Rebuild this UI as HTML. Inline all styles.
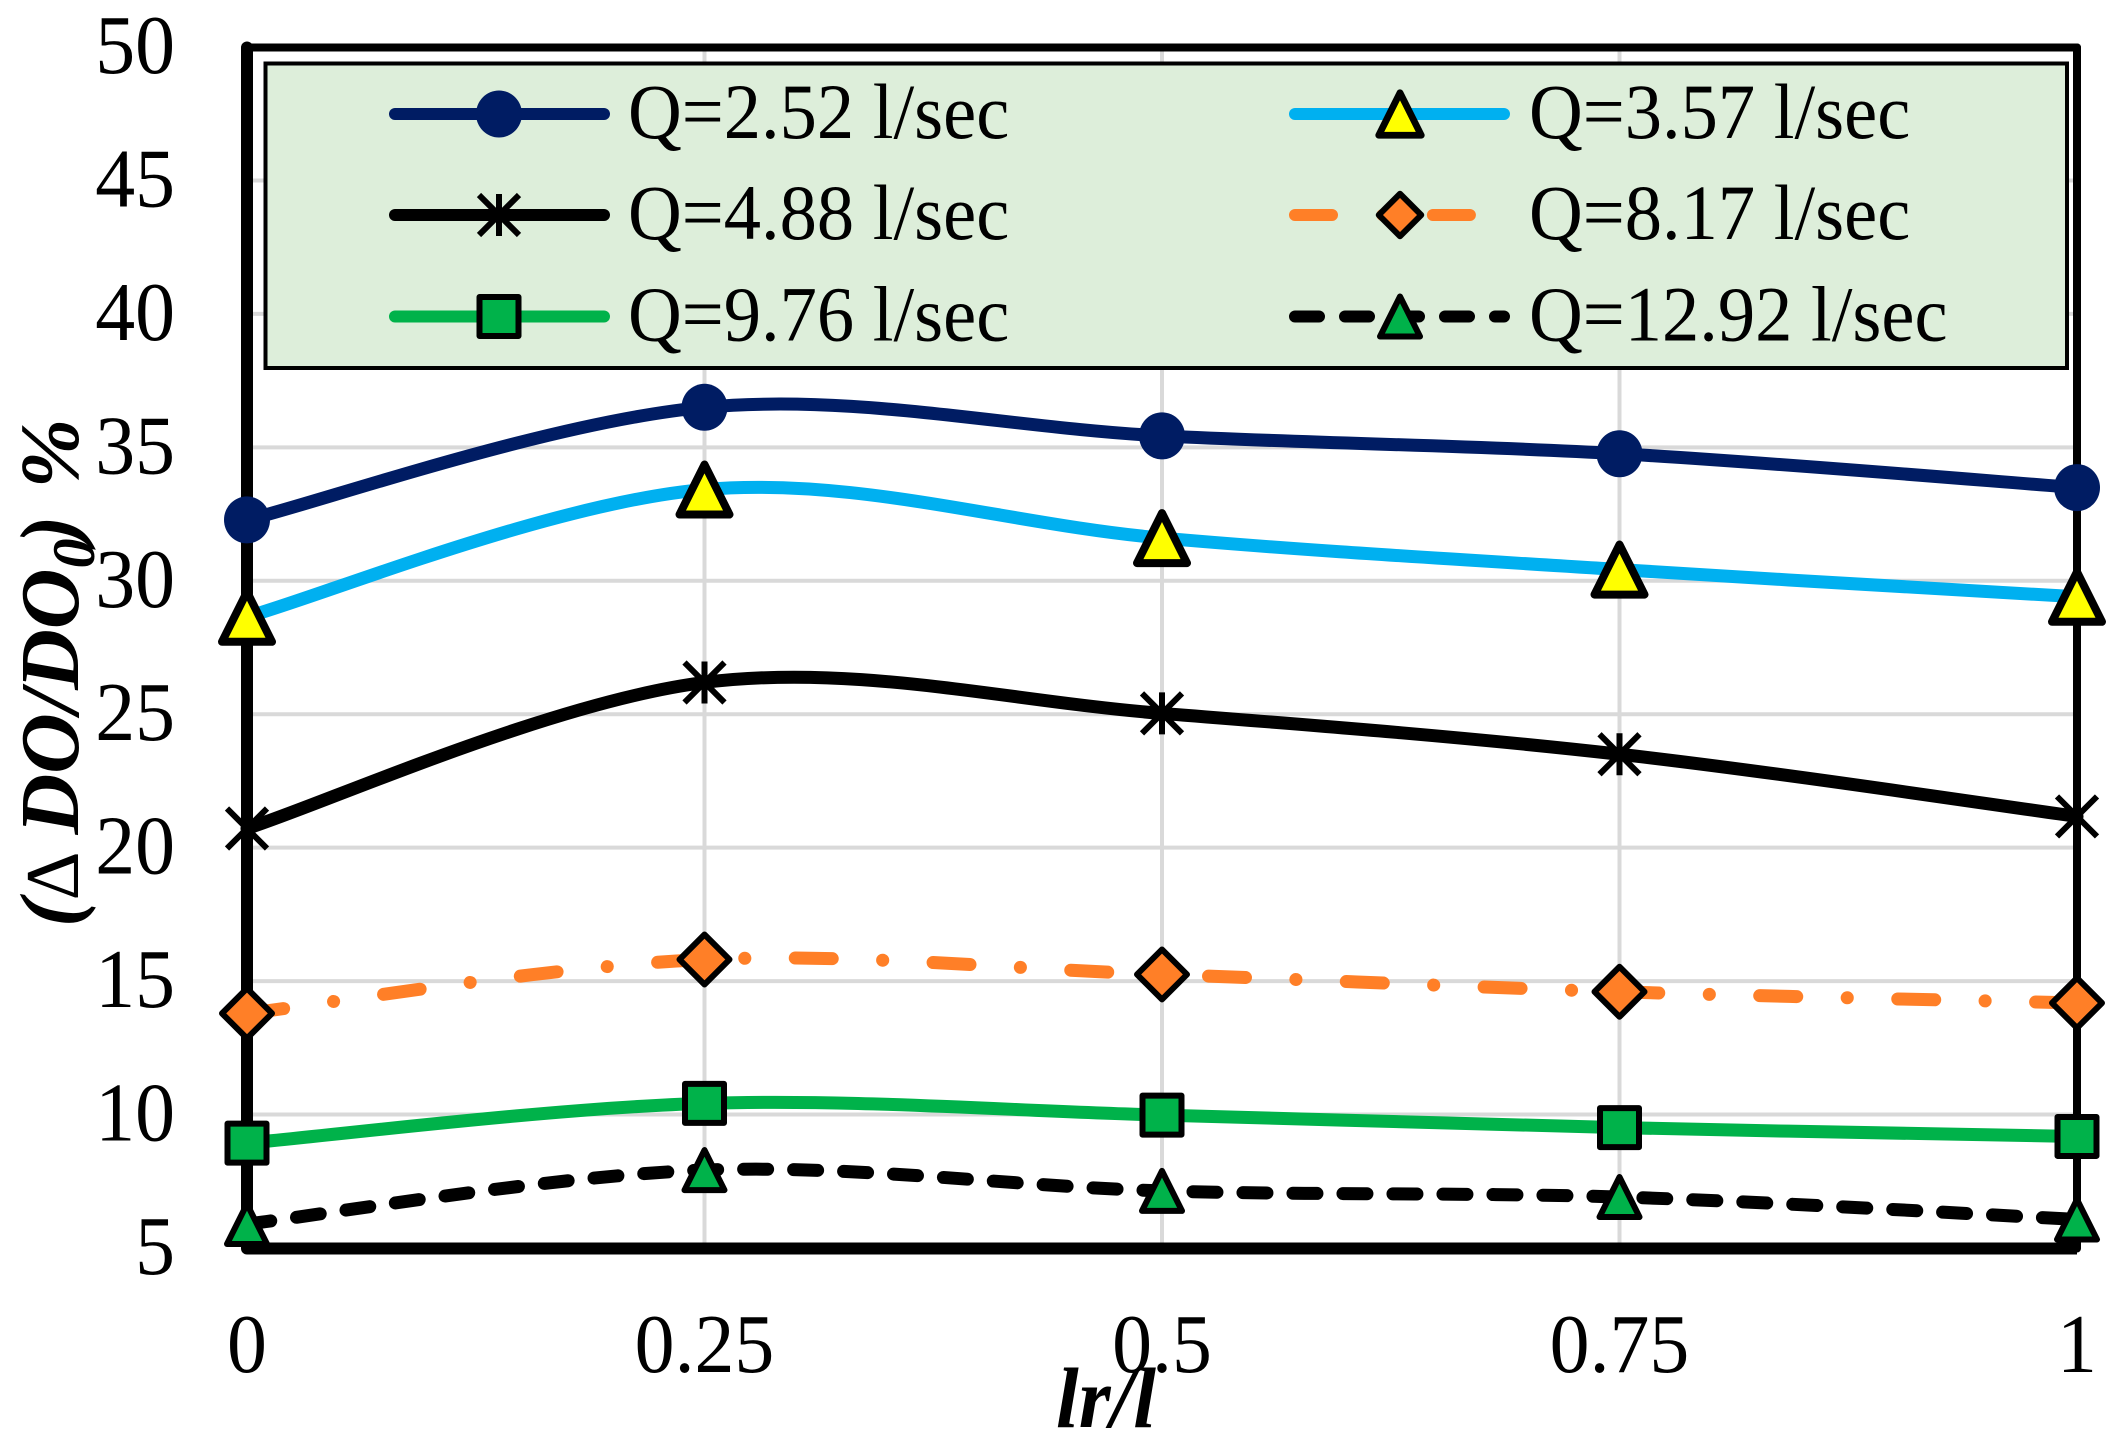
<!DOCTYPE html>
<html lang="en">
<head>
<meta charset="utf-8">
<title>DO ratio chart</title>
<style>
html,body{margin:0;padding:0;background:#fff;}
svg{display:block;}
text{font-family:"Liberation Serif","Times New Roman",serif;fill:#000;}
</style>
</head>
<body>
<svg id="chart" xmlns="http://www.w3.org/2000/svg" width="2120" height="1452" viewBox="0 0 2120 1452">
  <rect x="0" y="0" width="2120" height="1452" fill="#ffffff"/>
  <g id="grid"></g>
  <g id="frame">
    <line x1="247" y1="47.5" x2="2077" y2="47.5" stroke="#000" stroke-width="8" stroke-linecap="round"/>
    <line x1="2077" y1="47.5" x2="2077" y2="1248.5" stroke="#000" stroke-width="8" stroke-linecap="round"/>
    <line x1="247" y1="47.5" x2="247" y2="1248.5" stroke="#000" stroke-width="12" stroke-linecap="round"/>
    <line x1="247" y1="1248.5" x2="2077" y2="1248.5" stroke="#000" stroke-width="12"/>
  </g>
  <g id="yticks"></g>
  <g id="xticks"></g>
  <text x="1056" y="1427" font-size="86" font-weight="bold" font-style="italic" textLength="100" lengthAdjust="spacingAndGlyphs">lr/l</text>
  <text transform="translate(78,927) rotate(-90)" font-size="84" font-weight="bold" font-style="italic"><tspan>(</tspan><tspan font-weight="normal" font-style="normal" font-size="76">∆</tspan><tspan dx="-3"> DO/DO</tspan><tspan font-size="60" dy="16">0</tspan><tspan dy="-16" dx="-5">)</tspan><tspan dx="6"> %</tspan></text>
  <g id="series"></g>
  <g id="legend">
    <rect x="265.5" y="63.5" width="1801.5" height="304.5" fill="#ddeeda" stroke="#000" stroke-width="4"/>
    <g id="legend-entries"></g>
  </g>
</svg>
<script>
const categories = [0, 0.25, 0.5, 0.75, 1];
const xTickLabels = ['0', '0.25', '0.5', '0.75', '1'];
const yTickValues = [5, 10, 15, 20, 25, 30, 35, 40, 45, 50];
const seriesNames = ['Q=2.52 l/sec', 'Q=3.57 l/sec', 'Q=4.88 l/sec', 'Q=8.17 l/sec', 'Q=9.76 l/sec', 'Q=12.92 l/sec'];
const q252 = [32.28, 36.5, 35.43, 34.76, 33.49];
const q357 = [28.65, 33.42, 31.6, 30.42, 29.4];
const q488 = [20.72, 26.19, 25.03, 23.5, 21.17];
const q817 = [13.79, 15.81, 15.25, 14.6, 14.18];
const q976 = [8.93, 10.42, 9.98, 9.51, 9.18];
const q1292 = [5.9, 7.92, 7.14, 6.91, 6.07];

const NS = 'http://www.w3.org/2000/svg';
const xScale = function (v) { return 247 + v * 1830; };
const yScale = function (v) { return 1248 - (v - 5) * (1201 / 45); };

const styles = [
  { slug: 'q-2-52', values: q252, color: '#001c63', dash: '', marker: 'circle' },
  { slug: 'q-3-57', values: q357, color: '#00b0f0', dash: '', marker: 'triangle-yellow' },
  { slug: 'q-4-88', values: q488, color: '#000000', dash: '', marker: 'star' },
  { slug: 'q-8-17', values: q817, color: '#ff7f27', dash: '37 50.4 0.1 50.4', marker: 'diamond' },
  { slug: 'q-9-76', values: q976, color: '#00b24a', dash: '', marker: 'square' },
  { slug: 'q-12-92', values: q1292, color: '#000000', dash: '24 26', marker: 'triangle-green' }
];

function svgEl(tag) { return document.createElementNS(NS, tag); }

function condense(t, ratio) {
  t.setAttribute('textLength', t.getComputedTextLength() * ratio);
  t.setAttribute('lengthAdjust', 'spacingAndGlyphs');
}

function smoothPath(values) {
  const pts = values.map(function (v, i) { return [xScale(categories[i]), yScale(v)]; });
  let d = 'M' + pts[0][0] + ' ' + pts[0][1];
  for (let i = 0; i < pts.length - 1; i++) {
    const p0 = pts[Math.max(i - 1, 0)];
    const p1 = pts[i];
    const p2 = pts[i + 1];
    const p3 = pts[Math.min(i + 2, pts.length - 1)];
    const c1x = p1[0] + (p2[0] - p0[0]) / 6;
    const c1y = p1[1] + (p2[1] - p0[1]) / 6;
    const c2x = p2[0] - (p3[0] - p1[0]) / 6;
    const c2y = p2[1] - (p3[1] - p1[1]) / 6;
    d += ' C' + c1x + ' ' + c1y + ' ' + c2x + ' ' + c2y + ' ' + p2[0] + ' ' + p2[1];
  }
  return d;
}

function drawMarker(kind, x, y, k, parent, name) {
  const g = svgEl('g');
  
  
  g.setAttribute('transform', 'translate(' + x + ',' + y + ')');
  if (kind === 'circle') {
    const c = svgEl('ellipse');
    c.setAttribute('rx', 23);
    c.setAttribute('ry', 23.5);
    c.setAttribute('fill', '#001c63');
    g.appendChild(c);
  } else if (kind === 'triangle-yellow' || kind === 'triangle-green') {
    const p = svgEl('polygon');
    const s = kind === 'triangle-yellow' ? 25 * k : 20;
    p.setAttribute('points', '0,' + (-s) + ' ' + s + ',' + s + ' ' + (-s) + ',' + s);
    p.setAttribute('fill', kind === 'triangle-yellow' ? '#ffff00' : '#00b24a');
    p.setAttribute('stroke', '#000');
    p.setAttribute('stroke-width', kind === 'triangle-yellow' ? 8 * k : 6);
    p.setAttribute('stroke-linejoin', 'round');
    g.appendChild(p);
  } else if (kind === 'diamond') {
    const p = svgEl('polygon');
    const s = 25 * k;
    p.setAttribute('points', '0,' + (-s) + ' ' + s + ',0 0,' + s + ' ' + (-s) + ',0');
    p.setAttribute('fill', '#ff7f27');
    p.setAttribute('stroke', '#000');
    p.setAttribute('stroke-width', 6);
    p.setAttribute('stroke-linejoin', 'round');
    g.appendChild(p);
  } else if (kind === 'square') {
    const r = svgEl('rect');
    r.setAttribute('x', -19.5);
    r.setAttribute('y', -19.5);
    r.setAttribute('width', 39);
    r.setAttribute('height', 39);
    r.setAttribute('fill', '#00b24a');
    r.setAttribute('stroke', '#000');
    r.setAttribute('stroke-width', 6);
    r.setAttribute('stroke-linejoin', 'round');
    g.appendChild(r);
  } else if (kind === 'star') {
    const p = svgEl('path');
    p.setAttribute('d', 'M0 -21 V21 M-20 -20 L20 20 M-20 20 L20 -20');
    p.setAttribute('fill', 'none');
    p.setAttribute('stroke', '#000');
    p.setAttribute('stroke-width', 6);
    g.appendChild(p);
  }
  parent.appendChild(g);
}

const grid = document.getElementById('grid');
yTickValues.forEach(function (v) {
  if (v === 5 || v === 50) return;
  const l = svgEl('line');
  
  
  l.setAttribute('x1', xScale(0));
  l.setAttribute('x2', xScale(1));
  l.setAttribute('y1', yScale(v));
  l.setAttribute('y2', yScale(v));
  l.setAttribute('stroke', '#d9d9d9');
  l.setAttribute('stroke-width', 4);
  grid.appendChild(l);
});
categories.forEach(function (c, i) {
  if (i === 0 || i === categories.length - 1) return;
  const l = svgEl('line');
  
  
  l.setAttribute('x1', xScale(c));
  l.setAttribute('x2', xScale(c));
  l.setAttribute('y1', yScale(50));
  l.setAttribute('y2', yScale(5));
  l.setAttribute('stroke', '#d9d9d9');
  l.setAttribute('stroke-width', 4);
  grid.appendChild(l);
});

const yticks = document.getElementById('yticks');
yTickValues.forEach(function (v) {
  const t = svgEl('text');
  
  
  t.setAttribute('x', 175);
  t.setAttribute('y', yScale(v) + 26);
  t.setAttribute('font-size', 84);
  t.setAttribute('text-anchor', 'end');
  t.textContent = String(v);
  yticks.appendChild(t);
  condense(t, 0.95);
});

const xticks = document.getElementById('xticks');
categories.forEach(function (c, i) {
  const t = svgEl('text');
  
  
  t.setAttribute('x', xScale(c));
  t.setAttribute('y', 1372);
  t.setAttribute('font-size', 84);
  t.setAttribute('text-anchor', 'middle');
  t.textContent = xTickLabels[i];
  xticks.appendChild(t);
  condense(t, 0.95);
});

const seriesLayer = document.getElementById('series');
styles.forEach(function (s) {
  const g = svgEl('g');
  
  
  const path = svgEl('path');
  
  
  path.setAttribute('d', smoothPath(s.values));
  path.setAttribute('fill', 'none');
  path.setAttribute('stroke', s.color);
  path.setAttribute('stroke-width', 13);
  path.setAttribute('stroke-linecap', 'round');
  if (s.dash) path.setAttribute('stroke-dasharray', s.dash);
  g.appendChild(path);
  s.values.forEach(function (v, i) {
    drawMarker(s.marker, xScale(categories[i]), yScale(v), 1, g, 'point-' + s.slug + '-' + i);
  });
  seriesLayer.appendChild(g);
});

const legendEntries = document.getElementById('legend-entries');
const rowY = [114, 215, 316.5];
styles.forEach(function (s, i) {
  const col = i % 2;
  const row = Math.floor(i / 2);
  const x1 = col === 0 ? 395 : 1295;
  const x2 = col === 0 ? 604 : 1504;
  const mx = col === 0 ? 499 : 1400;
  const tx = col === 0 ? 628 : 1529;
  const y = rowY[row];
  const g = svgEl('g');
  
  
  const l = svgEl('line');
  
  
  l.setAttribute('x1', x1);
  l.setAttribute('x2', x2);
  l.setAttribute('y1', y);
  l.setAttribute('y2', y);
  l.setAttribute('stroke', s.color);
  l.setAttribute('stroke-width', 12);
  l.setAttribute('stroke-linecap', 'round');
  if (s.dash) l.setAttribute('stroke-dasharray', s.dash);
  g.appendChild(l);
  drawMarker(s.marker, mx, y, 0.85, g, 'legend-marker-' + s.slug);
  const t = svgEl('text');
  
  
  t.setAttribute('x', tx);
  t.setAttribute('y', y + 24);
  t.setAttribute('font-size', 78);
  t.textContent = seriesNames[i];
  g.appendChild(t);
  legendEntries.appendChild(g);
  condense(t, 0.955);
});
</script>
</body>
</html>
